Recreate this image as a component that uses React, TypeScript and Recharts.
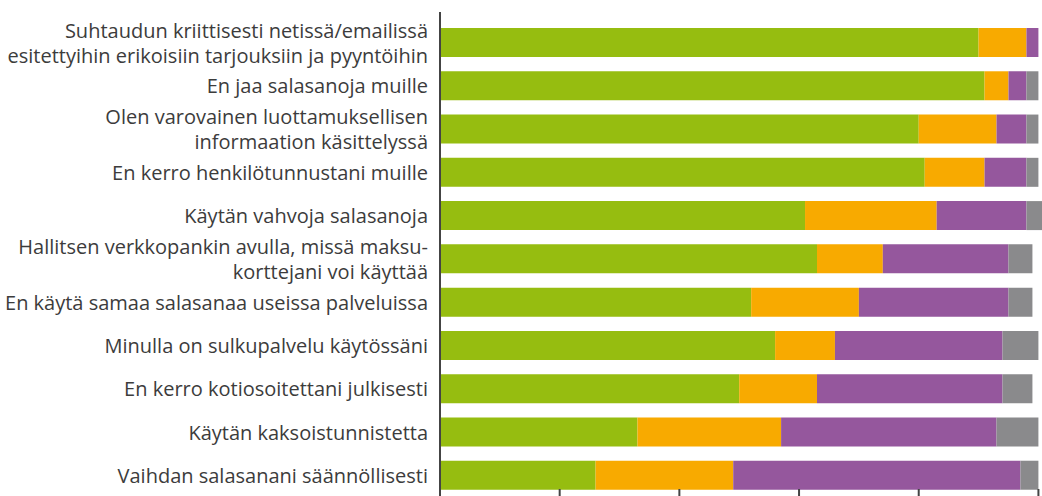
import { BarChart, Bar, XAxis, YAxis } from "recharts";

// statements (y categories), "\n" marks the line break used in the original
const statements = [
  "Suhtaudun kriittisesti netissä/emailissä\nesitettyihin erikoisiin tarjouksiin ja pyyntöihin",
  "En jaa salasanoja muille",
  "Olen varovainen luottamuksellisen\ninformaation käsittelyssä",
  "En kerro henkilötunnustani muille",
  "Käytän vahvoja salasanoja",
  "Hallitsen verkkopankin avulla, missä maksu-\nkorttejani voi käyttää",
  "En käytä samaa salasanaa useissa palveluissa",
  "Minulla on sulkupalvelu käytössäni",
  "En kerro kotiosoitettani julkisesti",
  "Käytän kaksoistunnistetta",
  "Vaihdan salasanani säännöllisesti",
];

// shares in percent, one array per stacked segment
const greenValues = [90, 91, 80, 81, 61, 63, 52, 56, 50, 33, 26];
const orangeValues = [8, 4, 13, 10, 22, 11, 18, 10, 13, 24, 23];
const purpleValues = [2, 3, 5, 7, 15, 21, 25, 28, 31, 36, 48];
const greyValues = [0, 2, 2, 2, 3, 4, 4, 6, 5, 7, 3];

const xTicks = [0, 20, 40, 60, 80, 100];

const data = statements.map((name, i) => ({
  name,
  green: greenValues[i],
  orange: orangeValues[i],
  purple: purpleValues[i],
  grey: greyValues[i],
}));

const TEXT = "#3c3c3c";
const AXIS = "#444444";

function StatementTick(props: any) {
  const { x, y, payload } = props;
  const lines = String(payload.value).split("\n");
  const lineHeight = 25;
  const first = -((lines.length - 1) * lineHeight) / 2 + 7.5;
  return (
    <text
      x={x}
      y={y}
      textAnchor="end"
      fill={TEXT}
      fontSize={20}
      fontFamily="'Open Sans', sans-serif"
    >
      {lines.map((line, i) => (
        <tspan key={i} x={x} y={y + first + i * lineHeight}>
          {line}
        </tspan>
      ))}
    </text>
  );
}

// small inward tick on the (hidden) bottom axis
function InwardTick(props: any) {
  const { x, y } = props;
  return <line x1={x} x2={x} y1={y - 8} y2={y} stroke={AXIS} strokeWidth={2} />;
}

export default function App() {
  return (
    <div
      style={{
        position: "fixed",
        left: 0,
        top: 0,
        width: 1042,
        height: 496,
        overflow: "hidden",
        background: "#fff",
      }}
    >
      <BarChart
        width={1042}
        height={501}
        data={data}
        layout="vertical"
        margin={{ top: 12, right: 0, bottom: 3, left: 1 }}
      >
        <XAxis
          type="number"
          domain={[0, 100.6]}
          allowDataOverflow
          ticks={xTicks}
          height={1}
          axisLine={false}
          tickLine={false}
          tickSize={0}
          tickMargin={0}
          interval={0}
          tick={<InwardTick />}
        />
        <YAxis
          type="category"
          dataKey="name"
          width={439}
          padding={{ top: 9, bottom: 0 }}
          axisLine={{ stroke: AXIS, strokeWidth: 2 }}
          tickLine={false}
          tickSize={0}
          tickMargin={12}
          interval={0}
          tick={<StatementTick />}
        />
        <Bar dataKey="green" stackId="a" fill="#96bd10" barSize={29} isAnimationActive={false} />
        <Bar dataKey="orange" stackId="a" fill="#f8aa00" barSize={29} isAnimationActive={false} />
        <Bar dataKey="purple" stackId="a" fill="#95579d" barSize={29} isAnimationActive={false} />
        <Bar dataKey="grey" stackId="a" fill="#8a8a8c" barSize={29} isAnimationActive={false} />
      </BarChart>
    </div>
  );
}
